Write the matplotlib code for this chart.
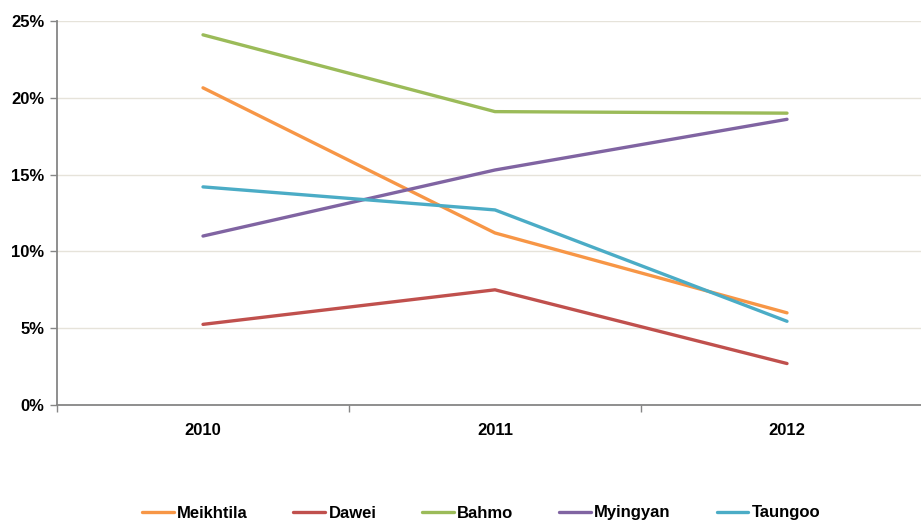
import matplotlib
matplotlib.use("Agg")
import matplotlib.pyplot as plt
from matplotlib.ticker import FuncFormatter, FixedLocator

years = ["2010", "2011", "2012"]
meikhtila = [20.65, 11.2, 6.0]
dawei = [5.25, 7.5, 2.7]
bahmo = [24.1, 19.1, 19.0]
myingyan = [11.0, 15.3, 18.6]
taungoo = [14.2, 12.7, 5.45]

series = [
    ("Meikhtila", meikhtila, "#F79646"),
    ("Dawei", dawei, "#C0504D"),
    ("Bahmo", bahmo, "#9BBB59"),
    ("Myingyan", myingyan, "#8064A2"),
    ("Taungoo", taungoo, "#4BACC6"),
]

plt.rcParams["font.family"] = ["Liberation Sans", "DejaVu Sans"]
plt.rcParams["font.weight"] = "bold"

W, H = 921, 525
FS = 12
fig = plt.figure(figsize=(W / 100, H / 100), dpi=100)
ax = fig.add_axes([57 / W, (H - 405) / H, (933 - 57) / W, 384 / H])

x = list(range(len(years)))
lines = []
for name, vals, col in series:
    ln, = ax.plot(x, vals, color=col, lw=2.4, label=name, solid_capstyle="round")
    lines.append(ln)

ax.set_xlim(-0.5, len(years) - 0.5)
ax.set_ylim(0, 25)
ax.set_yticks([0, 5, 10, 15, 20, 25])
ax.yaxis.set_major_formatter(FuncFormatter(lambda v, p: f"{int(v)}%"))
ax.yaxis.grid(True, color="#E6E3DA", lw=1.0)
ax.set_axisbelow(True)

# category labels centred, tick marks on category boundaries
ax.set_xticks(x)
ax.set_xticklabels(years)
ax.tick_params(axis="x", which="major", length=0, pad=13, labelsize=FS)
ax.xaxis.set_minor_locator(FixedLocator([-0.5, 0.5, 1.5, 2.5]))
ax.tick_params(axis="x", which="minor", length=5, color="#868686", width=1)
ax.tick_params(axis="y", length=5, color="#868686", width=1, pad=4, labelsize=FS)

for s in ["top", "right"]:
    ax.spines[s].set_visible(False)
for s in ["left", "bottom"]:
    ax.spines[s].set_color("#868686")
    ax.spines[s].set_linewidth(1.3)

fig.legend(handles=lines, loc="center", bbox_to_anchor=(481 / W, 1 - 513 / H),
           ncol=5, frameon=False, handlelength=1.9, handletextpad=0.2,
           columnspacing=2.75, fontsize=FS)

fig.savefig("out.png", dpi=100)
